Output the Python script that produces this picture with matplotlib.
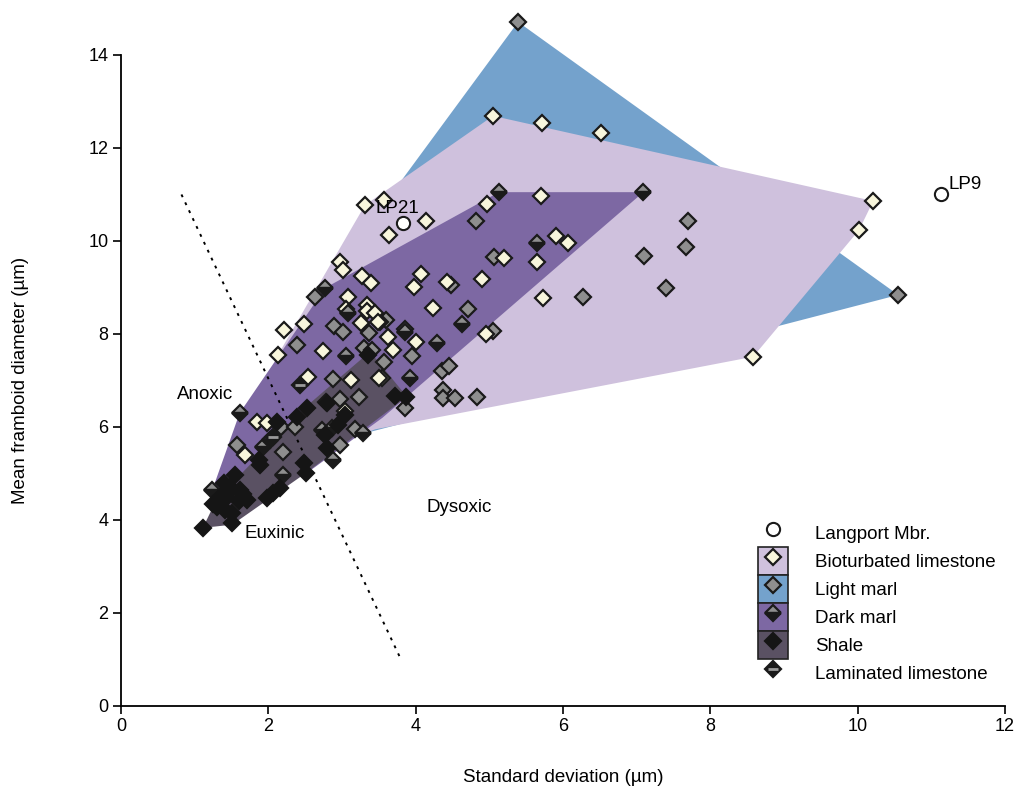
import matplotlib
matplotlib.use('Agg')
import matplotlib.pyplot as plt
from matplotlib.patches import Polygon, Patch
from matplotlib.lines import Line2D

plt.rcParams['font.family'] = ['Liberation Sans', 'DejaVu Sans']

# field outlines (standard deviation, mean diameter)
bio_hull = [(3.31, 10.77), (5.05, 12.69), (10.21, 10.86), (10.02, 10.24), (8.58, 7.51),
            (3.45, 5.95), (1.7, 4.9), (1.68, 5.40), (2.13, 7.55)]
light_hull = [(5.39, 14.71), (10.55, 8.84), (3.15, 5.80), (1.8, 4.9), (2.4, 7.8), (3.62, 10.9)]
dark_hull = [(5.13, 11.05), (7.09, 11.05), (3.55, 6.2), (2.6, 5.1), (1.4, 4.0),
             (1.24, 4.65), (1.61, 6.30), (2.77, 8.99)]
shale_hull = [(1.11, 3.83), (1.30, 4.45), (2.52, 6.45), (3.38, 7.62), (3.88, 6.65),
              (2.5, 5.0), (1.51, 3.90)]

bio_x = [3.31, 3.57, 3.64, 4.14, 4.97, 5.70, 5.90, 6.07, 5.20, 5.65, 4.07, 3.98, 4.42, 4.90,
         4.24, 3.52, 3.62, 4.00, 3.69, 4.95, 3.54, 5.05, 5.71, 6.52, 10.21, 10.02, 8.58,
         2.97, 3.01, 3.27, 3.39, 3.08, 3.05, 3.34, 3.34, 3.45, 3.26, 3.49, 2.74, 2.48, 2.21,
         2.13, 2.54, 3.12, 3.50, 2.78, 3.04, 1.85, 1.98, 1.68, 5.73]
bio_y = [10.77, 10.88, 10.13, 10.43, 10.80, 10.97, 10.11, 9.96, 9.63, 9.55, 9.29, 9.01, 9.12, 9.18,
         8.56, 8.26, 7.94, 7.83, 7.66, 8.00, 7.05, 12.69, 12.54, 12.32, 10.86, 10.24, 7.51,
         9.55, 9.38, 9.25, 9.10, 8.80, 8.54, 8.62, 8.49, 8.45, 8.24, 8.26, 7.63, 8.22, 8.09,
         7.55, 7.08, 7.01, 7.06, 6.54, 6.34, 6.11, 6.09, 5.40, 8.77]

light_x = [5.39, 10.55, 4.82, 5.06, 4.48, 4.71, 5.05, 6.27, 7.10, 7.67, 7.70, 7.40, 3.95, 3.57,
           4.36, 4.45, 4.37, 4.37, 4.53, 4.83, 3.85, 2.63, 2.89, 3.01, 2.39, 3.37, 3.30, 3.41,
           2.88, 3.23, 2.97, 2.17, 2.36, 3.18, 2.97, 2.20, 1.57, 3.85, 3.60]
light_y = [14.71, 8.84, 10.43, 9.66, 9.05, 8.54, 8.06, 8.80, 9.68, 9.87, 10.43, 8.99, 7.53, 7.40,
           7.20, 7.31, 6.80, 6.62, 6.62, 6.65, 6.41, 8.80, 8.17, 8.04, 7.76, 8.02, 7.70, 7.66,
           7.03, 6.65, 6.60, 6.00, 6.00, 5.95, 5.61, 5.46, 5.61, 8.10, 8.30]

dark_x = [5.13, 7.09, 5.65, 4.63, 3.85, 4.29, 3.92, 2.77, 3.08, 3.05, 1.61, 2.86, 3.28, 2.73,
          2.02, 1.93, 2.88, 2.20, 1.24]
dark_y = [11.05, 11.05, 9.96, 8.21, 8.04, 7.81, 7.05, 8.99, 8.45, 7.53, 6.30, 5.98, 5.87, 5.94,
          5.72, 5.57, 5.29, 4.97, 4.65]

lam_x = [2.43, 2.06]
lam_y = [6.90, 5.79]

shale_x = [3.72, 3.87, 3.35, 2.52, 2.39, 2.80, 3.04, 2.77, 2.80, 1.87, 1.89, 2.48, 2.51, 2.16,
           2.06, 1.98, 1.55, 1.48, 1.62, 1.71, 1.34, 1.41, 1.30, 1.51, 1.51, 1.11, 1.44, 2.12,
           1.60, 1.45, 1.35, 1.25, 1.40, 2.95, 1.66]
shale_y = [6.67, 6.65, 7.55, 6.41, 6.22, 6.52, 6.26, 5.83, 5.55, 5.29, 5.18, 5.22, 5.01, 4.69,
           4.58, 4.47, 4.97, 4.71, 4.65, 4.43, 4.37, 4.22, 4.28, 4.15, 3.94, 3.83, 4.49, 6.11,
           4.40, 4.60, 4.50, 4.35, 4.80, 6.05, 4.55]

lp_x = [3.83, 11.13]
lp_y = [10.39, 11.01]
lp_names = ['LP21', 'LP9']

redox_x = [0.82, 3.80]
redox_y = [11.0, 1.0]

c_bio = '#cfc1dd'
c_light = '#74a2cc'
c_dark = '#7d68a3'
c_shale = '#5a5163'

fs = 13.5

fig = plt.figure(figsize=(10.18, 7.89), dpi=100)
ax = fig.add_axes([0.1189, 0.1052, 0.8684, 0.8251])

ax.add_patch(Polygon(light_hull, closed=True, fc=c_light, ec='none', clip_on=False, zorder=1))
ax.add_patch(Polygon(bio_hull, closed=True, fc=c_bio, ec='none', clip_on=False, zorder=1))
ax.add_patch(Polygon(dark_hull, closed=True, fc=c_dark, ec='none', clip_on=False, zorder=1))
ax.add_patch(Polygon(shale_hull, closed=True, fc=c_shale, ec='none', clip_on=False, zorder=1))

ax.plot(redox_x, redox_y, ls=(0, (1.5, 3)), color='black', lw=1.4, zorder=2)

ms = 8
mew = 1.6
ax.plot(light_x, light_y, 'D', ms=ms, mfc='#8e8e8e', mec='#1a1a1a', mew=mew, ls='none',
        clip_on=False, zorder=3)
ax.plot(bio_x, bio_y, 'D', ms=ms, mfc='#f8f6dc', mec='#1a1a1a', mew=mew, ls='none', zorder=4)
ax.plot(dark_x, dark_y, 'D', ms=ms, mfc='#8e8e8e', mfcalt='#1a1a1a', fillstyle='top',
        mec='#1a1a1a', mew=mew, ls='none', zorder=5)
ax.plot(lam_x, lam_y, 'D', ms=ms, mfc='#1a1a1a', mec='#1a1a1a', mew=mew, ls='none', zorder=5)
ax.plot(lam_x, lam_y, '_', ms=ms * 0.9, mec='#9a9a9a', mew=2.0, ls='none', zorder=5)
ax.plot(shale_x, shale_y, 'D', ms=ms, mfc='#151515', mec='#151515', mew=mew, ls='none', zorder=6)
ax.plot(lp_x, lp_y, 'o', ms=9.5, mfc='white', mec='#1a1a1a', mew=1.5, ls='none', zorder=6)

ax.text(lp_x[0] - 0.37, lp_y[0] + 0.3, lp_names[0], fontsize=fs, va='center', ha='left', zorder=7)
ax.text(lp_x[1] + 0.1, lp_y[1] + 0.2, lp_names[1], fontsize=fs, va='center', ha='left', zorder=7)

ax.text(1.14, 6.69, 'Anoxic', fontsize=fs, ha='center', va='center')
ax.text(2.09, 3.72, 'Euxinic', fontsize=fs, ha='center', va='center')
ax.text(4.59, 4.26, 'Dysoxic', fontsize=fs, ha='center', va='center')

ax.set_xlim(0, 12)
ax.set_ylim(0, 14)
ax.set_xticks(range(0, 13, 2))
ax.set_yticks(range(0, 15, 2))
ax.spines['top'].set_visible(False)
ax.spines['right'].set_visible(False)
for s in ['left', 'bottom']:
    ax.spines[s].set_linewidth(1.3)
ax.tick_params(direction='out', length=6, width=1.2, labelsize=13, pad=3)
ax.set_xlabel('Standard deviation (µm)', fontsize=fs, labelpad=24)
ax.set_ylabel('Mean framboid diameter (µm)', fontsize=fs, labelpad=42.5)

kw = dict(ls='none', marker='D', ms=ms, mew=mew)
h_lp = Line2D([], [], ls='none', marker='o', ms=9.5, mfc='white', mec='#1a1a1a', mew=1.5)
h_bio = (Patch(fc=c_bio, ec='#222222', lw=1.2),
         Line2D([], [], mfc='#f8f6dc', mec='#1a1a1a', **kw))
h_light = (Patch(fc=c_light, ec='#222222', lw=1.2),
           Line2D([], [], mfc='#8e8e8e', mec='#1a1a1a', **kw))
h_dark = (Patch(fc=c_dark, ec='#222222', lw=1.2),
          Line2D([], [], mfc='#8e8e8e', mfcalt='#1a1a1a', fillstyle='top', mec='#1a1a1a', **kw))
h_shale = (Patch(fc=c_shale, ec='#222222', lw=1.2),
           Line2D([], [], mfc='#151515', mec='#151515', **kw))
h_lam = (Line2D([], [], mfc='#1a1a1a', mec='#1a1a1a', **kw),
         Line2D([], [], ls='none', marker='_', ms=ms * 0.9, mec='#9a9a9a', mew=2.0))
ax.legend([h_lp, h_bio, h_light, h_dark, h_shale, h_lam],
          ['Langport Mbr.', 'Bioturbated limestone', 'Light marl', 'Dark marl', 'Shale',
           'Laminated limestone'],
          loc='upper left', bbox_to_anchor=(0.7203, 0.288), frameon=False, fontsize=fs,
          handlelength=1.6, handleheight=1.93, labelspacing=0.0, handletextpad=1.45,
          borderpad=0, borderaxespad=0)

fig.savefig('out.png', dpi=100)
